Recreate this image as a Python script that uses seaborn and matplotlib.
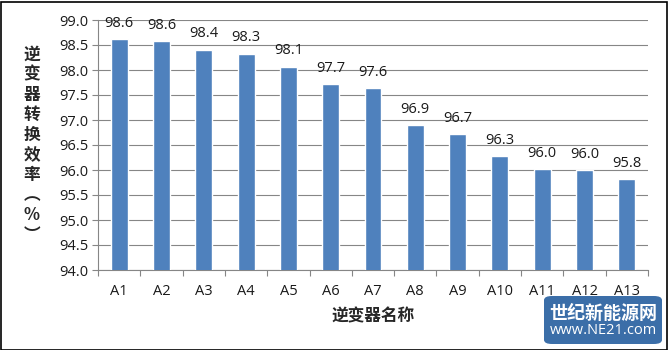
import matplotlib
matplotlib.use("Agg")
import matplotlib.pyplot as plt
import seaborn as sns
import pandas as pd
from matplotlib.patches import Rectangle, FancyBboxPatch

categories = ["A1", "A2", "A3", "A4", "A5", "A6", "A7", "A8", "A9", "A10", "A11", "A12", "A13"]
values = [98.62, 98.58, 98.41, 98.33, 98.07, 97.72, 97.64, 96.90, 96.72, 96.28, 96.02, 96.00, 95.82]
labels = ["98.6", "98.6", "98.4", "98.3", "98.1", "97.7", "97.6", "96.9", "96.7", "96.3", "96.0", "96.0", "95.8"]
yticks = [94.0, 94.5, 95.0, 95.5, 96.0, 96.5, 97.0, 97.5, 98.0, 98.5, 99.0]

sns.set_style("white")
plt.rcParams['font.family'] = ['Open Sans', 'Noto Sans CJK SC', 'DejaVu Sans']

df = pd.DataFrame({"name": categories, "eff": values})

fig = plt.figure(figsize=(6.68, 3.5), dpi=100)
ax = fig.add_axes([98/668, 80/350, 550/668, 250/350])

sns.barplot(data=df, x="name", y="eff", color="#4F81BD", width=0.4, saturation=1,
            ax=ax, zorder=3)

ax.set_ylim(94.0, 99.0)
ax.set_xlim(-0.5, len(categories) - 0.5)
ax.set_yticks(yticks)
ax.set_yticklabels([f"{t:.1f}" for t in yticks], fontsize=10.5, color="#1a1a1a")
ax.tick_params(axis='y', which='major', direction='out', length=4, width=0.8, color="#868686", pad=3, left=True)
ax.set_xticks(range(len(categories)))
ax.set_xticklabels(categories, fontsize=10.5, color="#1a1a1a")
ax.tick_params(axis='x', which='major', length=0, pad=10)
ax.set_xticks([i - 0.5 for i in range(len(categories) + 1)], minor=True)
ax.tick_params(axis='x', which='minor', direction='out', length=4, width=0.8, color="#868686", bottom=True)

ax.grid(axis='y', color="#868686", linewidth=0.8, zorder=0)
ax.set_axisbelow(True)
for s in ["top", "right"]:
    ax.spines[s].set_visible(False)
for s in ["left", "bottom"]:
    ax.spines[s].set_color("#868686")
    ax.spines[s].set_linewidth(0.8)

for i, (v, lab) in enumerate(zip(values, labels)):
    ax.annotate(lab, (i, v), xytext=(0, 6), textcoords="offset points",
                ha="center", va="bottom", fontsize=10.5, color="#1a1a1a")

ax.set_xlabel("")
ax.set_ylabel("")
fig.text(373/668, (350 - 316)/350, "逆变器名称", ha="center", va="center", fontsize=12, fontweight="bold",
         family=['Noto Sans CJK SC', 'DejaVu Sans'])

fig.text(32/668, (350 - 145)/350, "逆\n变\n器\n转\n换\n效\n率\n︵\n%\n︶", ha="center", va="center",
         fontsize=12, fontweight="bold", linespacing=1.15,
         family=['Noto Sans CJK SC', 'DejaVu Sans'])

# figure border
fig.patches.append(Rectangle((0.5/668, 0.5/350), 666/668, 348/350, transform=fig.transFigure,
                             fill=False, edgecolor="black", linewidth=1.2))

# watermark
fig.patches.append(FancyBboxPatch((544/668, 6/350), 118/668, 48/350, transform=fig.transFigure,
                                  boxstyle="round,pad=0,rounding_size=0.012",
                                  facecolor="#3B6EA8", edgecolor="none", zorder=5))
fig.text(603/668, (350 - 313)/350, "世纪新能源网", ha="center", va="center", fontsize=13, fontweight="bold",
         color="white", family=['Noto Sans CJK SC', 'DejaVu Sans'], zorder=6)
fig.text(603/668, (350 - 331)/350, "www.NE21.com", ha="center", va="center", fontsize=10.5,
         color="white", zorder=6)

fig.savefig("out.png", dpi=100)
